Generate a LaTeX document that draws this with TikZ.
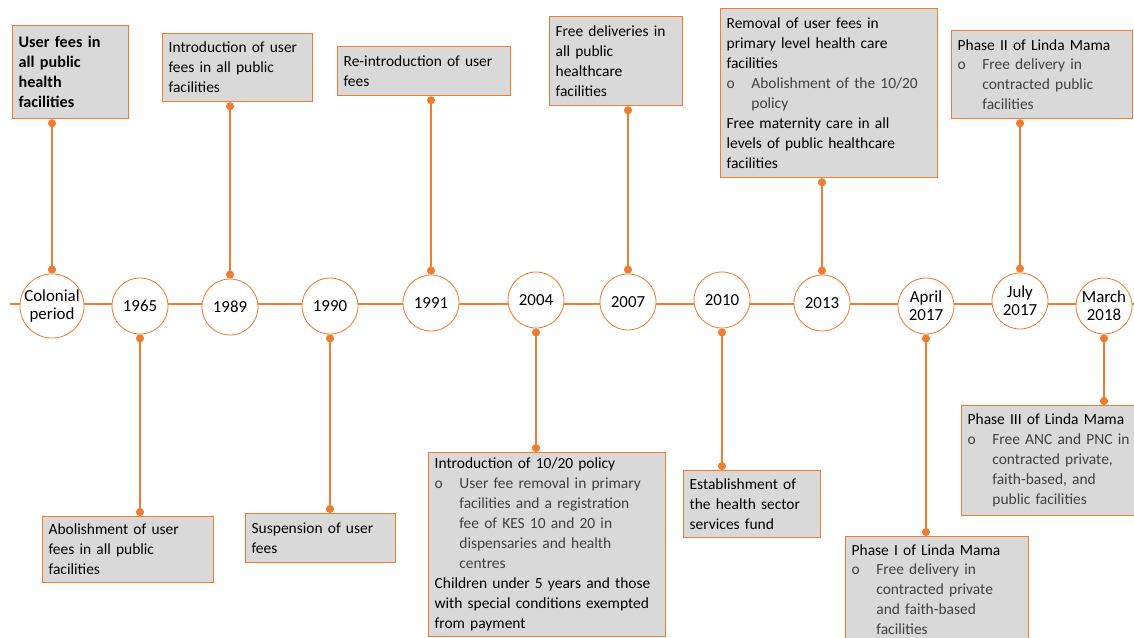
\documentclass[tikz,border=0pt]{standalone}
\usepackage{fontspec}
\setmainfont{Carlito}
\usetikzlibrary{arrows.meta}
\definecolor{tlorange}{RGB}{237,125,49}
\definecolor{boxgray}{RGB}{217,217,217}
\newcommand{\bl}[1]{\makebox[1.6em][l]{\textcolor{black!75}{o}}\textcolor{black!75}{#1}}
\newcommand{\ind}[1]{\hspace*{1.6em}\textcolor{black!75}{#1}}
\tikzset{
  year/.style={circle, draw=tlorange, line width=0.6pt, fill=white, minimum size=1.4cm,
    inner sep=0pt, align=center, font=\fontsize{12}{13}\selectfont},
  event/.style={draw=tlorange, line width=0.9pt, fill=boxgray, anchor=north west, align=left,
    inner xsep=0.15cm, inner ysep=0.1cm, font=\fontsize{11}{14.2}\selectfont, text width=#1},
  stem/.style={draw=tlorange, line width=1.3pt, {Circle[length=0.2cm]}-{Circle[length=0.2cm]}},
  tlaxis/.style={draw=tlorange, line width=1pt}
}
\begin{document}
\begin{tikzpicture}[x=0.025cm, y=-0.025cm]
\useasboundingbox[fill=white] (0,0) rectangle (1134,638);

\coordinate (axl) at (10,304);
\coordinate (axr) at (1134,304);
\draw[tlaxis] (axl) -- (axr);

\node[year] (colonial) at (52,306) {Colonial\\period};
\node[year] (y1965) at (140,306) {1965};
\node[year] (y1989) at (230,307) {1989};
\node[year] (y1990) at (330,306) {1990};
\node[year] (y1991) at (431,303) {1991};
\node[year] (y2004) at (536,300) {2004};
\node[year] (y2007) at (628,302) {2007};
\node[year] (y2010) at (722,300) {2010};
\node[year] (y2013) at (822,303) {2013};
\node[year] (apr2017) at (926,306) {April\\2017};
\node[year] (jul2017) at (1020,301) {July\\2017};
\node[year] (mar2018) at (1104,306) {March\\2018};

\node[event=2.6cm, minimum height=2.325cm, font=\fontsize{11.5}{14.2}\selectfont\bfseries] (fees) at (12,25)
  {User fees in\\all public\\health\\facilities};
\node[event=3.975cm, minimum height=1.65cm] (abolish) at (42,516)
  {Abolishment of user\\fees in all public\\facilities};
\node[event=3.45cm, minimum height=1.7cm] (intro) at (162,33)
  {Introduction of user\\fees in all public\\facilities};
\node[event=3.45cm, minimum height=1.225cm] (suspend) at (245,513)
  {Suspension of user\\fees};
\node[event=4.025cm, minimum height=1.225cm] (reintro) at (337,46)
  {Re-introduction of user\\fees};
\node[event=5.625cm, minimum height=4.6cm] (policy) at (428,452)
  {Introduction of 10/20 policy\\
   \bl{User fee removal in primary}\\
   \ind{facilities and a registration}\\
   \ind{fee of KES 10 and 20 in}\\
   \ind{dispensaries and health}\\
   \ind{centres}\\
   Children under 5 years and those\\
   with special conditions exempted\\
   from payment};
\node[event=3.025cm, minimum height=2.225cm] (deliv) at (549,16)
  {Free deliveries in\\all public\\healthcare\\facilities};
\node[event=3.125cm, minimum height=1.675cm] (fund) at (683,470)
  {Establishment of\\the health sector\\services fund};
\node[event=5.125cm, minimum height=4.225cm] (removal) at (720,8)
  {Removal of user fees in\\
   primary level health care\\
   facilities\\
   \bl{Abolishment of the 10/20}\\
   \ind{policy}\\
   Free maternity care in all\\
   levels of public healthcare\\
   facilities};
\node[event=4.275cm, minimum height=2.65cm] (phaseone) at (845,536)
  {Phase I of Linda Mama\\
   \bl{Free delivery in}\\
   \ind{contracted private}\\
   \ind{and faith-based}\\
   \ind{facilities}};
\node[event=4.225cm, minimum height=2.2cm] (phasetwo) at (951,30)
  {Phase II of Linda Mama\\
   \bl{Free delivery in}\\
   \ind{contracted public}\\
   \ind{facilities}};
\node[event=4.4cm, minimum height=2.75cm] (phasethree) at (961,405)
  {Phase III of Linda Mama\\
   \bl{Free ANC and PNC in}\\
   \ind{contracted private,}\\
   \ind{faith-based, and}\\
   \ind{public facilities}};

\draw[stem] (colonial.north) -- (colonial |- fees.south);
\draw[stem] (y1965.south) -- (y1965 |- abolish.north);
\draw[stem] (y1989.north) -- (y1989 |- intro.south);
\draw[stem] (y1990.south) -- (y1990 |- suspend.north);
\draw[stem] (y1991.north) -- (y1991 |- reintro.south);
\draw[stem] (y2004.south) -- (y2004 |- policy.north);
\draw[stem] (y2007.north) -- (y2007 |- deliv.south);
\draw[stem] (y2010.south) -- (y2010 |- fund.north);
\draw[stem] (y2013.north) -- (y2013 |- removal.south);
\draw[stem] (apr2017.south) -- (apr2017 |- phaseone.north);
\draw[stem] (jul2017.north) -- (jul2017 |- phasetwo.south);
\draw[stem] (mar2018.south) -- (mar2018 |- phasethree.north);
\end{tikzpicture}
\end{document}
